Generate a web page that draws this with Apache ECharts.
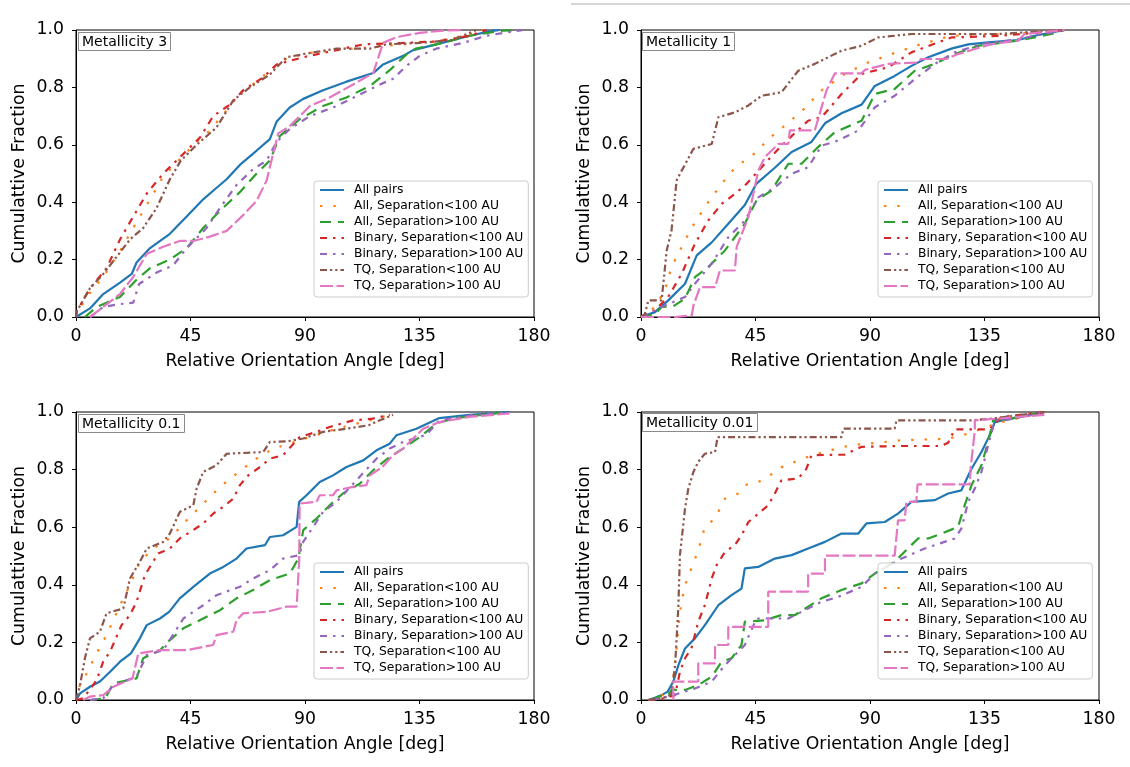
<!DOCTYPE html>
<html><head><meta charset="utf-8">
<script src="https://cdn.jsdelivr.net/npm/echarts@6/dist/echarts.min.js"></script>
<style>html,body{margin:0;padding:0;background:#fff}#c{width:1130px;height:767px}</style>
</head><body><div id="c"></div>
<script>
// ---------- categories / labels ----------
const panelTitles = ['Metallicity 3', 'Metallicity 1', 'Metallicity 0.1', 'Metallicity 0.01'];
const seriesNames = ['All pairs', 'All, Separation<100 AU', 'All, Separation>100 AU',
  'Binary, Separation<100 AU', 'Binary, Separation>100 AU', 'TQ, Separation<100 AU', 'TQ, Separation>100 AU'];
const xTicks = [0, 45, 90, 135, 180];
const yTicks = [0, 0.2, 0.4, 0.6, 0.8, 1.0];
const xTitle = 'Relative Orientation Angle [deg]';
const yTitle = 'Cumulattive Fraction';

// ---------- Metallicity 3 ----------
const m3_all = [[0,0],[5.5,0.03],[10.7,0.08],[17.3,0.12],[21.9,0.15],[23.8,0.19],[29.1,0.24],[36.9,0.29],[43.5,0.35],[50,0.41],[53.9,0.44],[59.2,0.48],[64.4,0.53],[71,0.58],[76.2,0.62],[78.8,0.68],[84,0.73],[89.3,0.76],[97.1,0.79],[106.3,0.82],[116.8,0.85],[120.7,0.88],[128.6,0.91],[132.5,0.93],[141.6,0.95],[154.7,0.98],[162.6,0.995],[166.5,1]];
const m3_allLt = [[0,0],[0.3,0.01],[4.2,0.07],[10.7,0.14],[17.3,0.23],[23.8,0.33],[29.1,0.41],[34.3,0.49],[40.8,0.55],[47.4,0.61],[52.6,0.65],[59.2,0.72],[64.4,0.78],[71,0.82],[76.2,0.86],[82.7,0.9],[91.9,0.92],[102.4,0.93],[115.5,0.94],[128.6,0.95],[141.6,0.96],[154.7,0.985],[160,1]];
const m3_allGt = [[3.5,0],[8.1,0.035],[12,0.05],[17.3,0.07],[23.8,0.13],[29.1,0.17],[36.9,0.2],[43.5,0.24],[50,0.31],[56.6,0.37],[64.4,0.435],[71,0.5],[76.2,0.545],[80.1,0.63],[88,0.69],[97.1,0.735],[106.3,0.765],[115.5,0.805],[123.3,0.86],[129.9,0.915],[133.5,0.935],[141.6,0.95],[154.7,0.98],[167.8,0.998],[175.7,1]];
const m3_binLt = [[0,0],[0.3,0.02],[5.5,0.1],[12,0.17],[17.3,0.27],[22.5,0.35],[27.8,0.43],[34.3,0.5],[39.5,0.545],[48.7,0.625],[53.9,0.7],[60.5,0.74],[65.7,0.79],[73.6,0.835],[78.8,0.88],[89.3,0.905],[102.4,0.93],[113,0.95],[128.6,0.955],[141.6,0.96],[154.7,0.98],[161.3,1]];
const m3_binGt = [[5.5,0],[10.7,0.035],[17.3,0.045],[22.5,0.05],[24.8,0.115],[31.7,0.155],[38.2,0.18],[43.5,0.24],[51.3,0.31],[56.6,0.38],[63.1,0.46],[69.6,0.515],[74.9,0.545],[78.8,0.61],[84,0.655],[91.9,0.7],[102.4,0.735],[111.5,0.775],[119.4,0.81],[124.6,0.83],[129.9,0.875],[135.1,0.91],[141.6,0.935],[152.1,0.955],[161.3,0.98],[168,0.99],[175.7,1]];
const m3_tqLt = [[0,0],[0.3,0.02],[5.5,0.1],[10.7,0.15],[16,0.21],[21.2,0.27],[26.4,0.31],[31.7,0.38],[36.9,0.48],[41.2,0.545],[47.4,0.6],[55.2,0.66],[61.8,0.755],[68.3,0.8],[76.2,0.845],[82.7,0.905],[91.9,0.92],[102.4,0.935],[115.5,0.935],[122,0.95],[135,0.955],[148,0.965],[157.4,1]];
const m3_tqGt = [[5.5,0],[10.7,0.035],[17.3,0.08],[22.5,0.14],[27.8,0.22],[34.3,0.245],[40.8,0.265],[46.1,0.265],[52.6,0.28],[59.2,0.3],[65.7,0.355],[71,0.405],[74.9,0.475],[77.5,0.57],[79.5,0.64],[84,0.665],[91.9,0.735],[99.7,0.765],[108.9,0.81],[116.8,0.85],[120.7,0.955],[125.9,0.975],[135.1,0.99],[144.3,0.998],[152,1]];

// ---------- Metallicity 1 ----------
const m1_all = [[0,0],[5.5,0.017],[10.7,0.058],[17.3,0.116],[21.9,0.215],[27.8,0.26],[34.3,0.325],[40.8,0.39],[45.4,0.465],[52.6,0.52],[59.2,0.575],[67,0.61],[72.3,0.675],[78.8,0.71],[86.7,0.74],[91.9,0.805],[99.7,0.84],[106.3,0.875],[112.9,0.905],[122,0.935],[128.6,0.95],[136.4,0.957],[148.2,0.965],[154.7,0.98],[166.5,1]];
const m1_allLt = [[0,0],[5.5,0.035],[9.4,0.093],[12,0.174],[17.3,0.267],[21.2,0.33],[26.4,0.4],[31.7,0.464],[36.9,0.52],[44.4,0.568],[50.9,0.626],[57.4,0.673],[64.1,0.725],[70.9,0.789],[80.1,0.847],[89.3,0.887],[98.4,0.916],[110.2,0.951],[122,0.98],[140,0.985],[154.7,0.99],[166.5,1]];
const m1_allGt = [[0,0],[5.5,0.01],[8.1,0.035],[12.6,0.037],[17.3,0.064],[21.2,0.139],[26.4,0.174],[33,0.232],[40.8,0.325],[45.4,0.406],[51.3,0.441],[57.9,0.534],[63.1,0.534],[69.6,0.592],[76.2,0.644],[86.7,0.684],[91.9,0.777],[99.7,0.795],[107.6,0.858],[115.5,0.882],[123.3,0.916],[132.5,0.945],[148.2,0.963],[161.3,0.986],[166.5,1]];
const m1_binLt = [[0,0],[5.5,0.023],[10.7,0.07],[16,0.151],[21.2,0.255],[26.4,0.336],[31.7,0.394],[36.9,0.429],[41.5,0.464],[47.4,0.522],[55.2,0.597],[65.7,0.684],[71,0.696],[78.8,0.777],[86.7,0.847],[97.1,0.87],[106.3,0.922],[116.8,0.957],[122,0.974],[141.6,0.98],[154.7,0.99],[166.5,1]];
const m1_binGt = [[0,0],[8.1,0.035],[17.3,0.07],[21.2,0.116],[27.8,0.186],[34.3,0.278],[40.8,0.336],[46.1,0.417],[52.6,0.452],[59.2,0.499],[65.7,0.522],[71,0.597],[77.5,0.615],[85.4,0.65],[91.9,0.731],[99.7,0.771],[107.6,0.829],[115.5,0.882],[123.3,0.922],[133.8,0.951],[148.2,0.968],[166.5,1]];
const m1_tqLt = [[0,0],[1.5,0.01],[2.9,0.058],[8.1,0.058],[10.1,0.232],[12,0.302],[14,0.476],[16,0.51],[20.6,0.586],[27.8,0.603],[30.4,0.696],[36.9,0.713],[42.2,0.737],[47.4,0.771],[55.2,0.783],[61.8,0.858],[68.3,0.882],[78.8,0.928],[86.7,0.945],[93.2,0.974],[106.3,0.986],[140,0.986],[154.7,0.994],[166.5,1]];
const m1_tqGt = [[0,0],[13.4,0],[13.4,0.006],[20,0.006],[20.6,0.04],[23.2,0.104],[29.1,0.104],[31,0.162],[36.9,0.162],[37.6,0.244],[42.2,0.348],[46.1,0.51],[48.7,0.557],[54,0.603],[57.9,0.603],[58.5,0.65],[68.3,0.65],[72.9,0.789],[76.2,0.849],[86.7,0.849],[88,0.861],[97.1,0.882],[108.9,0.887],[110,0.899],[120,0.899],[124.6,0.916],[131.2,0.934],[138,0.951],[148.2,0.963],[150.8,0.986],[166.5,1]];

// ---------- Metallicity 0.1 ----------
const m01_all = [[0,0],[1.6,0.023],[5.5,0.046],[9.4,0.064],[13.4,0.098],[17.3,0.133],[21.6,0.162],[25.1,0.214],[27.8,0.26],[33,0.283],[36.6,0.306],[40.8,0.353],[46.1,0.393],[52.6,0.439],[57.9,0.462],[63.1,0.491],[67,0.526],[74.3,0.538],[76.2,0.566],[81.4,0.572],[86.7,0.601],[87.7,0.688],[90.6,0.711],[95.8,0.757],[101,0.78],[106.3,0.809],[112.9,0.832],[118.1,0.867],[123.3,0.89],[125.9,0.919],[133.8,0.942],[142.8,0.979],[154.7,0.99],[170.4,1]];
const m01_allLt = [[0,0],[1.5,0.052],[4.2,0.092],[8.1,0.162],[12,0.225],[17.3,0.329],[21.2,0.399],[25.1,0.48],[30.4,0.526],[36.9,0.561],[43.5,0.624],[50,0.682],[56.6,0.74],[63.1,0.786],[70.9,0.838],[77.5,0.873],[84,0.89],[91.9,0.913],[102.4,0.942],[115.5,0.971],[123.3,0.99]];
const m01_allGt = [[5.5,0],[11.5,0.006],[14.7,0.058],[23.8,0.075],[26.4,0.145],[33,0.173],[36.9,0.208],[42.2,0.249],[50,0.283],[56.6,0.312],[63.1,0.353],[69.6,0.382],[76.2,0.416],[84,0.439],[87.4,0.491],[89.3,0.59],[94.5,0.63],[99.7,0.676],[104.9,0.717],[111.5,0.751],[116.8,0.798],[123.3,0.844],[128.6,0.873],[135.1,0.913],[141.6,0.96],[148.2,0.977],[157.4,0.988],[170,1]];
const m01_binLt = [[0,0],[2.9,0.006],[8.1,0.069],[10.7,0.133],[13.4,0.168],[17.9,0.26],[21.2,0.295],[23.8,0.341],[27.1,0.434],[32.3,0.509],[36.9,0.526],[40.8,0.561],[46.1,0.59],[50,0.613],[53.9,0.647],[57.9,0.671],[61.8,0.699],[64.4,0.746],[67.7,0.78],[72.3,0.809],[76.2,0.838],[81.4,0.85],[87.9,0.913],[94.5,0.931],[99.7,0.948],[108.9,0.971],[116.6,0.977],[123.3,0.99]];
const m01_binGt = [[5.5,0],[10.7,0.006],[14.7,0.052],[23.8,0.081],[27.8,0.156],[34.3,0.173],[42.2,0.283],[50,0.329],[55.2,0.364],[64.4,0.393],[69.6,0.422],[76.2,0.451],[81.4,0.491],[87.7,0.503],[89.3,0.549],[91.9,0.584],[97.1,0.653],[102.4,0.688],[111.5,0.775],[118.1,0.838],[123.3,0.873],[128.6,0.896],[137.7,0.921],[142.8,0.971],[154.7,0.988],[170.4,1]];
const m01_tqLt = [[0,0],[1.6,0.052],[3.5,0.145],[5.5,0.214],[9.4,0.237],[12,0.301],[18.6,0.318],[21.2,0.422],[25.1,0.48],[27.8,0.526],[34.3,0.549],[36.9,0.578],[40.8,0.653],[46.1,0.676],[47.4,0.734],[50,0.792],[55.2,0.815],[59.2,0.855],[73.6,0.861],[76.2,0.896],[83,0.898],[89.3,0.908],[97.1,0.931],[106.3,0.942],[115,0.954],[119.4,0.971],[124.6,0.99]];
const m01_tqGt = [[2.9,0],[5.5,0.012],[10.7,0.017],[14.7,0.046],[22.2,0.075],[24.5,0.162],[33,0.173],[43.5,0.173],[53.9,0.191],[55.2,0.225],[61.8,0.237],[63.1,0.277],[65.7,0.301],[74.9,0.306],[82.7,0.324],[86.7,0.324],[87.7,0.48],[87.9,0.682],[94.5,0.688],[95.8,0.711],[101,0.711],[102.4,0.728],[108.9,0.74],[114.1,0.746],[115.5,0.78],[120.4,0.809],[124.6,0.85],[128.6,0.873],[133.8,0.919],[136.4,0.942],[142.8,0.965],[154.7,0.983],[170.4,0.995]];

// ---------- Metallicity 0.01 ----------
const m001_all = [[2.9,0],[5.5,0.008],[8.1,0.017],[10.5,0.029],[12.7,0.064],[14.7,0.121],[17.3,0.179],[21.2,0.214],[25.1,0.26],[30.4,0.329],[35.6,0.364],[39.5,0.387],[40.8,0.457],[46.1,0.462],[52.6,0.491],[59.2,0.503],[65.7,0.526],[72.3,0.549],[78.8,0.578],[85.4,0.578],[88.6,0.613],[95.8,0.618],[101,0.647],[106.3,0.688],[115.5,0.694],[120.7,0.717],[125.9,0.728],[129.9,0.803],[133.8,0.861],[137.7,0.931],[139,0.965],[145.5,0.977],[152.1,0.988],[158.7,1]];
const m001_allLt = [[2.9,0],[8.1,0.017],[12,0.029],[13.6,0.145],[15.3,0.306],[17.3,0.399],[19.3,0.445],[22.5,0.52],[25.1,0.601],[29.1,0.63],[33,0.699],[38.2,0.717],[40.8,0.746],[46.1,0.757],[50,0.775],[53.9,0.803],[61.8,0.832],[67,0.849],[74.3,0.867],[82.1,0.884],[89.3,0.89],[102.4,0.902],[120.7,0.907],[128.6,0.925],[137.7,0.954],[141.6,0.965],[158.7,1]];
const m001_allGt = [[4.2,0],[6.8,0.012],[10.7,0.017],[12,0.035],[17.3,0.035],[22.5,0.052],[27.8,0.081],[31.7,0.133],[35.6,0.145],[39.5,0.191],[40.8,0.272],[48.7,0.277],[55.2,0.295],[60.5,0.295],[65.7,0.324],[70.9,0.353],[78.8,0.382],[86.7,0.405],[91.9,0.439],[99.7,0.48],[104.9,0.526],[108.9,0.561],[112.9,0.561],[118.1,0.578],[124.6,0.601],[127.2,0.676],[129.9,0.746],[133.8,0.815],[136.4,0.896],[138.4,0.971],[145,0.977],[158.7,1]];
const m001_binLt = [[2.9,0],[9.4,0.006],[13.4,0.017],[15.3,0.098],[17.3,0.145],[19.8,0.179],[22.5,0.272],[25.1,0.329],[27.8,0.422],[29.7,0.468],[33,0.514],[36.9,0.538],[39.5,0.572],[42.2,0.618],[46.1,0.647],[50,0.676],[52.6,0.717],[55.2,0.763],[61.8,0.769],[65,0.803],[67,0.85],[80,0.852],[86.7,0.879],[102.4,0.882],[118,0.882],[120.7,0.893],[123.3,0.94],[137,0.94],[141.6,0.983],[158.7,1]];
const m001_binGt = [[4.2,0],[10.7,0.012],[21.2,0.04],[27.8,0.064],[33,0.121],[40.8,0.191],[45.4,0.283],[57.9,0.283],[65.7,0.318],[70.9,0.341],[77.5,0.358],[86.7,0.393],[91.9,0.439],[102.4,0.491],[111.5,0.526],[123.3,0.561],[125.9,0.595],[128.6,0.688],[131.2,0.734],[133.8,0.792],[136.4,0.884],[139,0.971],[145.5,0.975],[158.7,1]];
const m001_tqLt = [[2.9,0],[8.1,0.006],[11.9,0.017],[13.4,0.121],[14,0.214],[14.7,0.329],[15.3,0.503],[16.6,0.607],[17.3,0.665],[18.6,0.734],[20.6,0.792],[22.5,0.827],[25.1,0.855],[29.1,0.861],[30.1,0.913],[78.8,0.913],[79.5,0.942],[99.7,0.942],[100.4,0.971],[129.9,0.971],[138,0.977],[145,0.985],[158.7,1]];
const m001_tqGt = [[12.7,0],[12.7,0.064],[22.5,0.064],[22.5,0.127],[29.1,0.127],[29.1,0.191],[34.3,0.191],[34.3,0.254],[50,0.254],[50,0.376],[65.7,0.376],[65.7,0.439],[72.3,0.439],[72.3,0.501],[99.7,0.501],[101,0.624],[103.6,0.624],[104.3,0.688],[108.2,0.688],[108.7,0.749],[129.2,0.749],[129.6,0.809],[131.2,0.936],[131.2,0.971],[158.7,0.99]];

const panelData = [
  [m3_all, m3_allLt, m3_allGt, m3_binLt, m3_binGt, m3_tqLt, m3_tqGt],
  [m1_all, m1_allLt, m1_allGt, m1_binLt, m1_binGt, m1_tqLt, m1_tqGt],
  [m01_all, m01_allLt, m01_allGt, m01_binLt, m01_binGt, m01_tqLt, m01_tqGt],
  [m001_all, m001_allLt, m001_allGt, m001_binLt, m001_binGt, m001_tqLt, m001_tqGt]
];

// ---------- styles ----------
const FONT = 'DejaVu Sans';
const colors = ['#1f77b4', '#ff7f0e', '#2ca02c', '#d62728', '#9467bd', '#8c564b', '#e377c2'];
const dashes = ['solid', [2.4, 11], [11, 7], [7, 6, 2.5, 6], [7, 6, 2.5, 6], [7, 3, 2.2, 3, 2.2, 3], [13, 3.5]];
const grids = [
  {left: 76, top: 30, width: 458, height: 287},
  {left: 641, top: 30, width: 458, height: 287},
  {left: 76, top: 412, width: 458, height: 288},
  {left: 641, top: 412, width: 458, height: 288}
];
const legendPos = [{left: 314, top: 181}, {left: 878, top: 181}, {left: 314, top: 563}, {left: 878, top: 563}];
const titlePos = [{left: 78, top: 32}, {left: 642, top: 32}, {left: 78, top: 414}, {left: 642, top: 413}];

const chart = echarts.init(document.getElementById('c'), null, {renderer: 'canvas'});
const option = {
  backgroundColor: '#fff',
  animation: false,
  grid: grids.map(g => Object.assign({show: true, borderColor: '#000', borderWidth: 1, backgroundColor: 'transparent'}, g)),
  xAxis: grids.map((g, i) => ({
    gridIndex: i, type: 'value', min: xTicks[0], max: xTicks[xTicks.length - 1], interval: 45,
    name: xTitle, nameLocation: 'middle', nameGap: 36,
    nameTextStyle: {fontFamily: FONT, fontSize: 17.3, color: '#000'},
    axisLine: {show: true, onZero: false, lineStyle: {color: '#000', width: 1}},
    axisTick: {show: true, inside: false, length: 4, lineStyle: {color: '#000'}},
    axisLabel: {fontFamily: FONT, fontSize: 17.3, color: '#000', margin: 11},
    splitLine: {show: false}
  })),
  yAxis: grids.map((g, i) => ({
    gridIndex: i, type: 'value', min: yTicks[0], max: yTicks[yTicks.length - 1], interval: 0.2,
    name: yTitle, nameLocation: 'middle', nameGap: 48,
    nameTextStyle: {fontFamily: FONT, fontSize: 17.3, color: '#000'},
    axisLine: {show: true, onZero: false, lineStyle: {color: '#000', width: 1}},
    axisTick: {show: true, inside: false, length: 4, lineStyle: {color: '#000'}},
    axisLabel: {fontFamily: FONT, fontSize: 17.3, color: '#000', margin: 12, formatter: v => v.toFixed(1)},
    splitLine: {show: false}
  })),
  title: panelTitles.map((t, i) => ({
    text: t, left: titlePos[i].left, top: titlePos[i].top,
    padding: [3, 4, 2, 4], borderColor: '#8a8a8a', borderWidth: 1, backgroundColor: '#fff',
    textStyle: {fontFamily: FONT, fontSize: 14, fontWeight: 'normal', color: '#000'}
  })),
  legend: legendPos.map(p => ({
    data: seriesNames, orient: 'vertical', left: p.left, top: p.top,
    itemWidth: 24, itemHeight: 14, itemGap: 4, padding: [3, 5, 5, 5],
    itemStyle: {opacity: 0, borderWidth: 0},
    backgroundColor: 'rgba(255,255,255,0.85)', borderColor: '#cccccc', borderWidth: 1, borderRadius: 3,
    textStyle: {fontFamily: FONT, fontSize: 12.3, color: '#000', padding: [0, 0, 0, 5]},
    selectedMode: false
  })),
  graphic: [{type: 'line', shape: {x1: 571, y1: 4, x2: 1130, y2: 4}, style: {stroke: '#c8c8c8', lineWidth: 1.5}}],
  series: []
};
panelData.forEach((arrs, p) => {
  arrs.forEach((d, k) => {
    option.series.push({
      type: 'line', name: seriesNames[k], xAxisIndex: p, yAxisIndex: p, data: d,
      symbol: 'none', showSymbol: false, smooth: false, clip: true,
      color: colors[k],
      itemStyle: {color: colors[k], opacity: 0},
      lineStyle: {color: colors[k], width: 2.2, type: dashes[k], opacity: 1},
      emphasis: {disabled: true}
    });
  });
});
chart.setOption(option);
</script></body></html>
